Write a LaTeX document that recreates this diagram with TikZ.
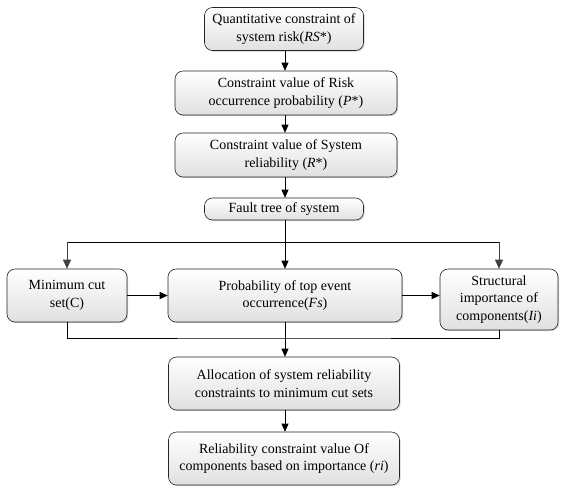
\documentclass[tikz,border=0pt]{standalone}
\usepackage{fontspec}
\setmainfont{Liberation Serif}
\usetikzlibrary{arrows.meta,shadows}
\begin{document}
\begin{tikzpicture}[x=1pt,y=-1pt,
  box/.style={draw=black!85, line width=0.6pt, rounded corners=8pt, align=center,
    top color=white, bottom color=black!12, inner sep=1pt,
    drop shadow={shadow xshift=1.2pt, shadow yshift=-1.2pt, opacity=0.35},
    font=\fontsize{14}{17.5}\selectfont},
  arr/.style={-{Triangle[length=8pt,width=7pt]}, line width=0.7pt},
  ln/.style={line width=0.7pt},
  garr/.style={-{Triangle[length=9pt,width=8pt]}, line width=0.9pt, draw=black!75, fill=black!75}]
\useasboundingbox (0,0) rectangle (567,491);
\node[box, minimum width=159pt, minimum height=43pt] (b1) at (284,29) {Quantitative constraint of\\system risk(\textit{RS}*)};
\node[box, minimum width=222pt, minimum height=44pt] (b2) at (286,93) {Constraint value of Risk\\occurrence probability (\textit{P}*)};
\node[box, minimum width=222pt, minimum height=44pt] (b3) at (286,155) {Constraint value of System\\reliability (\textit{R}*)};
\node[box, minimum width=159pt, minimum height=22pt] (b4) at (284,209) {Fault tree of system};
\node[box, minimum width=120pt, minimum height=53pt] (mc) at (67,295.5) {Minimum cut\\set(C)};
\node[box, minimum width=234pt, minimum height=53pt] (pr) at (285,295.5) {Probability of top event\\occurrence(\textit{Fs})};
\node[box, minimum width=118pt, minimum height=61pt] (st) at (499,299.5) {Structural\\importance of\\components(\textit{Ii})};
\node[box, minimum width=231pt, minimum height=53pt] (al) at (284,383.5) {Allocation of system reliability\\constraints to minimum cut sets};
\node[box, minimum width=231pt, minimum height=53pt] (re) at (284,458.5) {Reliability constraint value Of\\components based on importance (\textit{ri})};
\coordinate (split) at (285,242);
\coordinate (join) at (285,338);
\draw[arr] (b1.south -| split) -- (b2.north -| split);
\draw[arr] (b2.south -| split) -- (b3.north -| split);
\draw[arr] (b3.south -| split) -- (b4.north -| split);
\draw[ln] (b4.south -| split) -- (split);
\draw[ln] (mc.north |- split) -- (st.north |- split);
\draw[garr] (split -| mc.north) -- (mc.north);
\draw[garr] (split -| st.north) -- (st.north);
\draw[arr] (split) -- (pr.north -| split);
\draw[arr] (mc.east) -- (pr.west);
\draw[arr] (pr.east) -- (pr.east -| st.west);
\draw[ln] (mc.south) |- (join) -| (st.south);
\draw[arr] (pr.south -| join) -- (al.north -| join);
\draw[arr] (al.south -| join) -- (re.north -| join);
\end{tikzpicture}
\end{document}
